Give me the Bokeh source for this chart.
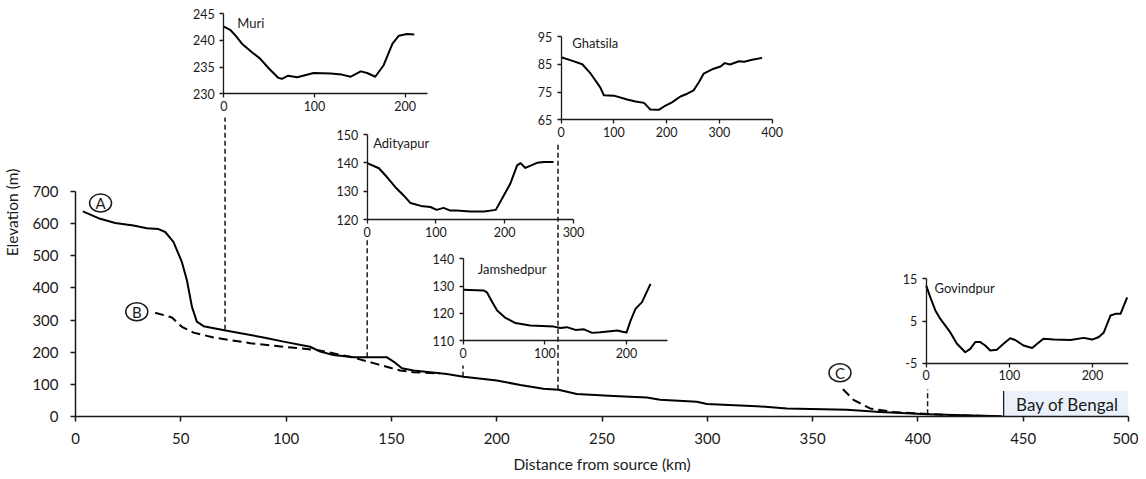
from bokeh.plotting import figure
from bokeh.models import Range1d, LinearAxis, FixedTicker, ColumnDataSource, PrintfTickFormatter
from bokeh.core.properties import value
from bokeh.embed import file_html
from bokeh.resources import INLINE

FONT = "Lato"
INK = "#1a1a1a"

# ---------------- data: main longitudinal profile ----------------
dist_A = [3.5, 11.7, 18.9, 27.5, 33.9, 39.4, 42.6, 46.5, 50.5, 52.9, 55.3, 57.6, 60.8, 71.9,
          89.3, 98.8, 111.4, 116.2, 122.5, 132, 147.9, 151, 155, 160.5, 176.3, 184.2, 200.1,
          211.2, 222.2, 229.3, 238, 255.5, 271.3, 277.6, 295, 299.8, 323.5, 337.8, 366.3, 382,
          404.3, 426.4, 440]
elev_A = [638, 615, 602, 594, 586, 583, 574, 543, 481, 424, 341, 295, 281, 267,
          246, 233, 217, 202, 191, 184, 184, 171, 150, 143, 132, 124, 112,
          98, 86, 83, 70, 64, 59, 52, 46, 39, 32, 25, 21, 14,
          7, 3, 1]

dist_B = [37.8, 45.8, 50.5, 56, 65.5, 83, 98.8, 114.6, 130.4, 141.5, 154.2, 160.5, 173.2]
elev_B = [323, 308, 279, 261, 246, 228, 217, 207, 186, 166, 143, 138, 134]

dist_C = [364.4, 369.4, 377.3, 388.4, 404.3, 420.2, 439.2]
elev_C = [85, 52, 25, 14, 8, 3, 0.5]

main_x_ticks = [0, 50, 100, 150, 200, 250, 300, 350, 400, 450, 500]
main_y_ticks = [0, 100, 200, 300, 400, 500, 600, 700]

label_names = ["A", "B", "C"]
label_dist = [11.9, 29.1, 363.0]
label_elev = [664, 326, 136]

# sites of the cross-section insets along the river (km) and profile elevation there
site_names = ["Muri", "Adityapur", "Jamshedpur", "Ghatsila", "Govindpur"]
site_dist = [71.0, 138.5, 184.0, 229.1, 404.6]
site_elev = [270, 184, 124, 83, 7]

sea_start = 440.7
sea_label = "Bay of Bengal"

# ---------------- data: cross sections ----------------
muri_x = [0, 7, 13, 20, 31, 40, 50, 60, 64, 71, 81, 99, 118, 130, 140, 151, 158, 167, 176, 186, 193, 202, 210]
muri_y = [242.6, 242.0, 240.9, 239.4, 237.8, 236.6, 234.7, 233.0, 232.8, 233.4, 233.1, 233.9, 233.8,
          233.6, 233.2, 234.2, 233.9, 233.2, 235.3, 239.4, 240.9, 241.2, 241.1]

ghat_x = [0, 20, 40, 56, 74, 81, 100, 125, 141, 157, 162, 169, 185, 195, 210, 226, 239, 251, 261, 270,
          289, 302, 310, 320, 337, 347, 362, 381]
ghat_y = [87.5, 86.3, 85.0, 81.6, 76.7, 73.8, 73.7, 72.3, 71.6, 71.1, 70.1, 68.7, 68.6, 69.8, 71.3,
          73.4, 74.4, 75.6, 78.5, 81.6, 83.4, 84.2, 85.4, 84.9, 86.1, 85.9, 86.6, 87.3]

adit_x = [0, 17, 29, 41, 53, 63, 78, 92, 101, 111, 120, 130, 150, 170, 187, 196, 208, 218, 223, 230, 247, 257, 271]
adit_y = [139.9, 138.1, 134.9, 131.4, 128.5, 125.8, 124.8, 124.4, 123.4, 124.1, 123.2, 123.2, 122.8,
          122.8, 123.4, 127.3, 132.6, 139.1, 139.9, 138.2, 140.0, 140.3, 140.3]

jam_x = [0, 25, 29, 35.5, 41.6, 51.8, 64, 82, 111, 119, 127, 137.5, 148, 158, 168, 189, 195, 200,
         205, 211, 219, 229.4]
jam_y = [128.6, 128.4, 127.7, 124.1, 121.0, 118.3, 116.4, 115.5, 115.1, 114.6, 114.9, 113.9, 114.1,
         112.8, 113.0, 113.7, 113.2, 112.9, 117.3, 121.6, 124.1, 130.8]

gov_x = [0, 5, 11, 17, 23, 29, 37, 47, 53, 59, 65, 71, 77, 85, 93, 101, 107, 117, 127.5, 133.5, 141,
         153.5, 173.5, 189.5, 199.6, 207.6, 213.6, 221.6, 227.6, 233.7, 241.7]
gov_y = [13.4, 10.6, 7.5, 5.5, 3.9, 2.3, -0.4, -2.4, -1.6, 0, 0, -0.8, -2, -1.8, -0.4, 0.9, 0.5, -0.8,
         -1.4, -0.4, 0.8, 0.6, 0.5, 1.0, 0.6, 1.2, 2.3, 6.3, 6.7, 6.7, 10.6]

muri_xticks, muri_yticks = [0, 100, 200], [230, 235, 240, 245]
ghat_xticks, ghat_yticks = [0, 100, 200, 300, 400], [65, 75, 85, 95]
adit_xticks, adit_yticks = [0, 100, 200, 300], [120, 130, 140, 150]
jam_xticks, jam_yticks = [0, 100, 200], [110, 120, 130, 140]
gov_xticks, gov_yticks = [0, 100, 200], [-5, 5, 15]

# ---------------- layout (page pixels) ----------------
PAGE_X = 8
PAGE_Y = 0
BORDER_L, BORDER_R, BORDER_T = 67, 10, 8
FRAME_W, FRAME_H = 1053, 408
FRAME_LEFT = PAGE_X + BORDER_L
FRAME_BOTTOM = PAGE_Y + BORDER_T + FRAME_H
Y700_PX = 191.0
y_scale = (FRAME_BOTTOM - Y700_PX) / 700.0
Y_END = FRAME_H / y_scale


def main_y(py):
    return (FRAME_BOTTOM - py) / y_scale


insets = [
    dict(key="muri", title="Muri", xs=muri_x, ys=muri_y, xt=muri_xticks, yt=muri_yticks,
         px0=223.3, pxr=314.0, xref=100, pyb=93.3, pyt=13.3, xend=225, tpos=(14.8, 243.3), ctop=117),
    dict(key="adit", title="Adityapur", xs=adit_x, ys=adit_y, xt=adit_xticks, yt=adit_yticks,
         px0=366.7, pxr=573.0, xref=300, pyb=219.0, pyt=134.0, xend=300, tpos=(8.7, 147.0), ctop=238),
    dict(key="jam", title="Jamshedpur", xs=jam_x, ys=jam_y, xt=jam_xticks, yt=jam_yticks,
         px0=462.7, pxr=626.0, xref=200, pyb=340.0, pyt=258.3, xend=250, tpos=(17.9, 136.4), ctop=365),
    dict(key="ghat", title="Ghatsila", xs=ghat_x, ys=ghat_y, xt=ghat_xticks, yt=ghat_yticks,
         px0=560.7, pxr=771.7, xref=400, pyb=119.3, pyt=36.0, xend=400, tpos=(20.9, 92.5), ctop=143),
    dict(key="gov", title="Govindpur", xs=gov_x, ys=gov_y, xt=gov_xticks, yt=gov_yticks,
         px0=925.7, pxr=1092.0, xref=200, pyb=362.7, pyt=278.3, xend=250, tpos=(10.0, 12.8), ctop=389),
]

p = figure(frame_width=FRAME_W, frame_height=FRAME_H, x_range=Range1d(0, 500), y_range=Range1d(0, Y_END),
           output_backend="svg", toolbar_location=None, title=None,
           min_border_left=BORDER_L, min_border_right=BORDER_R, min_border_top=BORDER_T, min_border_bottom=0)
p.outline_line_color = None
p.xgrid.visible = False
p.ygrid.visible = False
p.background_fill_color = "white"

xa = p.xaxis[0]
ya = p.yaxis[0]
for ax in (xa, ya):
    ax.axis_line_color = INK
    ax.axis_line_width = 1.5
    ax.major_tick_line_color = INK
    ax.major_tick_line_width = 1.5
    ax.major_tick_in = 0
    ax.major_tick_out = 5
    ax.minor_tick_line_color = None
    ax.major_label_text_font = FONT
    ax.major_label_text_font_size = "15px"
    ax.major_label_text_color = INK
    ax.axis_label_text_font = FONT
    ax.axis_label_text_font_size = "15.5px"
    ax.axis_label_text_font_style = "normal"
    ax.axis_label_text_color = INK
xa.ticker = FixedTicker(ticks=main_x_ticks)
ya.ticker = FixedTicker(ticks=main_y_ticks)
ya.bounds = (0, 700)
xa.axis_label = "Distance from source (km)"
ya.axis_label = "Elevation (m)"
xa.major_label_standoff = 11
xa.axis_label_standoff = 8
ya.major_label_standoff = 12
ya.axis_label_standoff = 8

# sea box
p.quad(left=[sea_start], right=[500], bottom=[0], top=[main_y(390.5)], fill_color="#EAF1FA", line_color=None)
p.segment(x0=[sea_start], y0=[0], x1=[sea_start], y1=[main_y(390.5)], line_color=INK, line_width=1.3)
p.text(x=[471], y=[main_y(404)], text=[sea_label], text_font=value(FONT), text_font_size="17px",
       text_align="center", text_baseline="middle", text_color=INK)

# connectors
tops = [main_y(d["ctop"]) for d in insets]
p.segment(x0=site_dist, y0=site_elev, x1=site_dist, y1=tops, line_color=INK, line_width=1.5, line_dash="5 3")

# profiles
p.line(dist_A, elev_A, line_color="black", line_width=2, line_join="round")
p.line(dist_B, elev_B, line_color="black", line_width=2, line_dash="9 5")
p.line(dist_C, elev_C, line_color="black", line_width=2, line_dash="9 5")

p.ellipse(x=label_dist, y=label_elev, width=22, height=18, width_units="screen", height_units="screen",
          fill_color=None, line_color=INK, line_width=1.5)
p.text(x=label_dist, y=label_elev, text=label_names, text_font=value(FONT), text_font_size="15px",
       text_align="center", text_baseline="middle", text_color=INK)

# insets
for d in insets:
    sx = (d["pxr"] - d["px0"]) / d["xref"]
    xs0 = -(d["px0"] - FRAME_LEFT) / sx
    yb, ytop = d["yt"][0], d["yt"][-1]
    sy = (d["pyb"] - d["pyt"]) / (ytop - yb)
    ys0 = yb - (FRAME_BOTTOM - d["pyb"]) / sy
    xn, yn = d["key"] + "_x", d["key"] + "_y"
    p.extra_x_ranges[xn] = Range1d(xs0, xs0 + FRAME_W / sx)
    p.extra_y_ranges[yn] = Range1d(ys0, ys0 + FRAME_H / sy)

    p.line(d["xs"], d["ys"], x_range_name=xn, y_range_name=yn, line_color="black", line_width=2,
           line_join="round")
    src = ColumnDataSource(dict(x=[d["tpos"][0]], y=[d["tpos"][1]], t=[d["title"]]))
    p.text(x="x", y="y", text="t", source=src, x_range_name=xn, y_range_name=yn,
           text_font=value(FONT), text_font_size="13px", text_align="left", text_baseline="middle",
           text_color=INK)

    ax_x = LinearAxis(x_range_name=xn, y_range_name=yn, fixed_location=yb, bounds=(0, d["xend"]),
                      ticker=FixedTicker(ticks=d["xt"]))
    ax_y = LinearAxis(x_range_name=xn, y_range_name=yn, fixed_location=0, bounds=(yb, ytop),
                      ticker=FixedTicker(ticks=d["yt"]), formatter=PrintfTickFormatter(format="%d"))
    for ax in (ax_x, ax_y):
        ax.axis_line_color = INK
        ax.axis_line_width = 1.3
        ax.major_tick_line_color = INK
        ax.major_tick_line_width = 1.3
        ax.major_tick_in = 0
        ax.major_tick_out = 4
        ax.minor_tick_line_color = None
        ax.major_label_text_font = FONT
        ax.major_label_text_font_size = "12.5px"
        ax.major_label_text_color = INK
    ax_x.major_label_standoff = 3
    ax_y.major_label_standoff = 5
    p.add_layout(ax_x, "below")
    p.add_layout(ax_y, "left")

open("out.html", "w").write(file_html(p, INLINE))
